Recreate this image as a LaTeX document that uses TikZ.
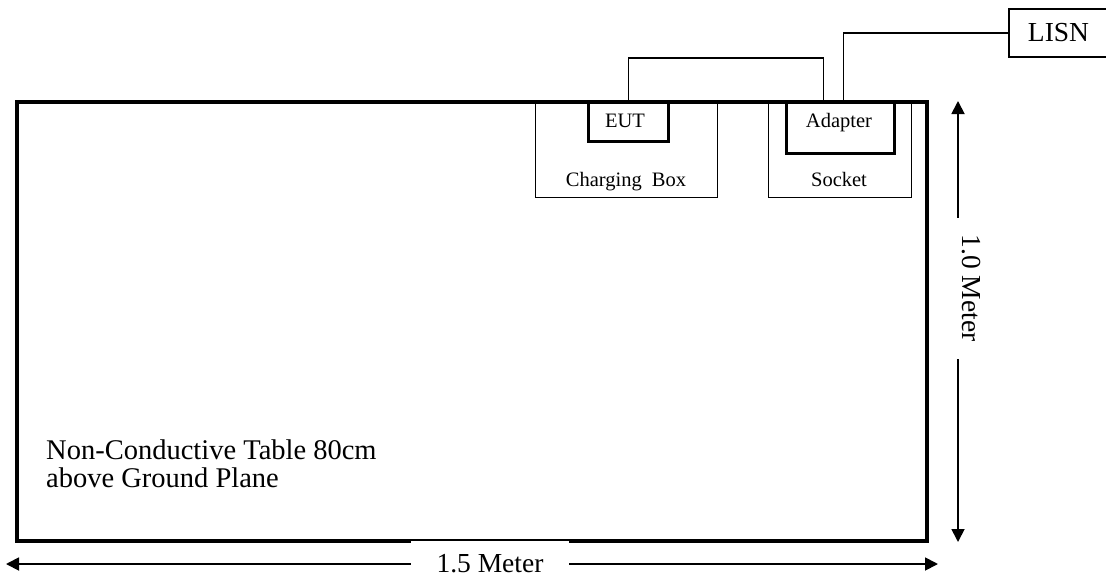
\documentclass[tikz,border=0pt]{standalone}
\usepackage{fontspec}
\setmainfont{Liberation Serif}
\usetikzlibrary{arrows.meta}

\tikzset{
    tablebox/.style={draw, line width=4pt},
    housing/.style={draw, line width=1pt, inner sep=0pt, anchor=north west},
    plug/.style={draw, line width=2.5pt, inner sep=0pt, anchor=north west},
    wire/.style={line width=1.2pt},
    dimline/.style={line width=1.8pt,
        {Triangle[length=13pt,width=13pt]}-{Triangle[length=13pt,width=13pt]}},
    bigtext/.style={font=\fontsize{27.5}{29}\selectfont, inner sep=0pt},
    smalltext/.style={font=\fontsize{20.5}{24}\selectfont, inner sep=0pt},
    dimtext/.style={bigtext, fill=white},
}

\begin{document}
\begin{tikzpicture}[x=1pt, y=-1pt]

    \useasboundingbox (0,0) rectangle (1106,578);

    % Charging box and socket standing on the table edge
    \node[housing, minimum width=182, minimum height=96] (charger) at (535,101) {};
    \node[housing, minimum width=143, minimum height=96] (socket) at (768,101) {};
    \node[plug, minimum width=80, minimum height=39] (eut) at (587,101) {};
    \node[plug, minimum width=108, minimum height=51] (adapter) at (785,101) {};

    % The table
    \draw[tablebox] (17,101.5) rectangle (927,541);

    % Labels of the boxes
    \node[smalltext, anchor=base] (euttext) at (625,128) {EUT};
    \node[smalltext, anchor=base] (adaptertext) at (839,128) {Adapter};
    \node[smalltext, anchor=base] (chargertext) at (626,186) {Charging\ \ Box};
    \node[smalltext, anchor=base] (sockettext) at (839,186) {Socket};

    % LISN, cut off by the right border
    \node[draw, wire, bigtext, minimum width=99, minimum height=48] (lisn) at (1058.5,33) {LISN};

    % Cables
    \draw[wire] (eut.north) -- ++(0,-43) -| ([xshift=-17pt]adapter.north);
    \draw[wire] ([xshift=3pt]adapter.north) |- (lisn.west);

    \node[bigtext, font=\fontsize{28.5}{28}\selectfont, align=left, anchor=base west] (tablenote) at (46,487)
        {Non-Conductive Table 80cm\\above Ground Plane};

    % Dimensions; the white labels break the arrows
    \coordinate (vtop) at (958,101);
    \coordinate (vbot) at (958,542);
    \draw[dimline] (vtop) -- (vbot);
    \node[dimtext, rotate=-90, minimum width=141, minimum height=40] (vlabel) at (971,288) {1.0 Meter};

    \coordinate (hleft) at (6,564);
    \coordinate (hright) at (938,564);
    \draw[dimline] (hleft) -- (hright);
    \node[dimtext, minimum width=158, minimum height=46] (hlabel) at (490,564) {1.5 Meter};

\end{tikzpicture}
\end{document}
